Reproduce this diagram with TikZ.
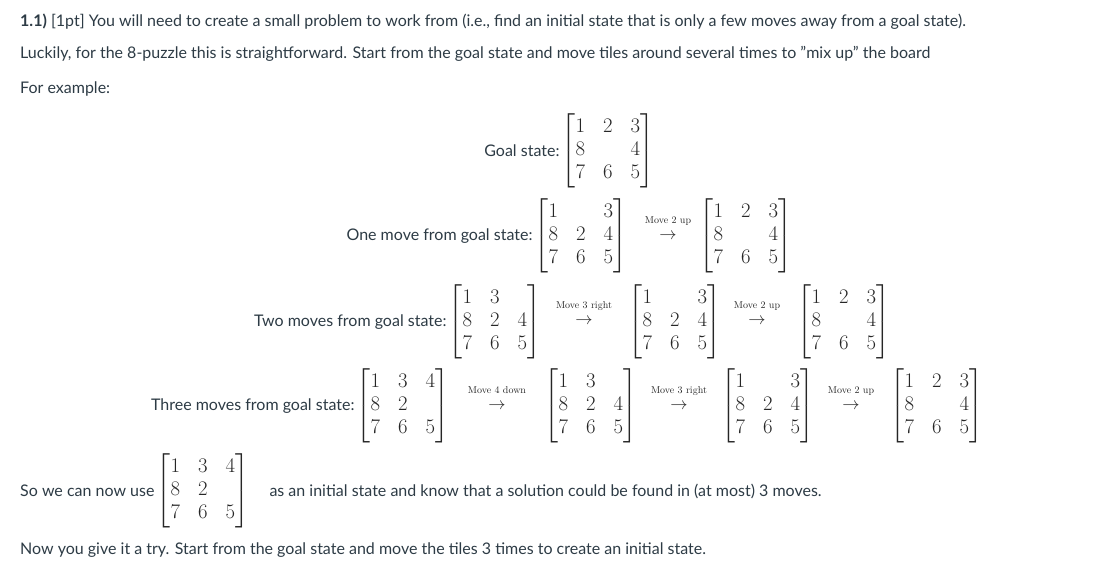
\documentclass[tikz,border=0pt]{standalone}
\usepackage{amsmath}
\usepackage{fontspec}
\setmainfont{Lato}
\newfontfamily\lmfont{Latin Modern Roman}
\definecolor{ink}{HTML}{2D3B45}
\setlength{\arraycolsep}{7.5pt}
\newcommand{\mv}[1]{{\fontsize{10}{11}\selectfont\lmfont #1}\\[-3pt]$\rightarrow$}
\begin{document}
\begin{tikzpicture}[x=1pt,y=-1pt,every node/.style={inner sep=0pt,text=ink,font=\fontsize{16}{19}\selectfont},
 lab/.style={anchor=east},
 mat/.style={scale=1.2,transform shape,text=black!85},
 mvs/.style={align=center,text=black!85},
 txt/.style={anchor=west}]
\useasboundingbox (0,0) rectangle (1095,572);
\node[txt] (t1) at (20,22) {\textbf{1.1)} [1pt] You will need to create a small problem to work from (i.e., find an initial state that is only a few moves away from a goal state).};
\node[txt] (t2) at (20,54) {Luckily, for the 8-puzzle this is straightforward. Start from the goal state and move tiles around several times to "mix up" the board};
\node[txt] (t3) at (20,89) {For example:};
% goal
\node[mat] (g) at (608,151) {$\begin{bmatrix}1&2&3\\8&&4\\7&6&5\end{bmatrix}$};
\node[lab] (gl) at ([xshift=-2pt]g.west) {Goal state:};
% one
\node[mat] (o1) at (581,236) {$\begin{bmatrix}1&&3\\8&2&4\\7&6&5\end{bmatrix}$};
\node[lab] (ol) at ([xshift=-2pt]o1.west) {One move from goal state:};
\node[mvs] (oa) at (668,228) {\mv{Move 2 up}};
\node[mat] (o2) at (746,236) {$\begin{bmatrix}1&2&3\\8&&4\\7&6&5\end{bmatrix}$};
% two
\node[mat] (w1) at (495,322) {$\begin{bmatrix}1&3&\phantom{0}\\8&2&4\\7&6&5\end{bmatrix}$};
\node[lab] (wl) at ([xshift=-2pt]w1.west) {Two moves from goal state:};
\node[mvs] (wa) at (584,313) {\mv{Move 3 right}};
\node[mat] (w2) at (675,322) {$\begin{bmatrix}1&&3\\8&2&4\\7&6&5\end{bmatrix}$};
\node[mvs] (wb) at (757,313) {\mv{Move 2 up}};
\node[mat] (w3) at (844,322) {$\begin{bmatrix}1&2&3\\8&&4\\7&6&5\end{bmatrix}$};
% three
\node[mat] (h1) at (403,406) {$\begin{bmatrix}1&3&4\\8&2&\\7&6&5\end{bmatrix}$};
\node[lab] (hl) at ([xshift=-2pt]h1.west) {Three moves from goal state:};
\node[mvs] (ha) at (497,398) {\mv{Move 4 down}};
\node[mat] (h2) at (591,406) {$\begin{bmatrix}1&3&\phantom{0}\\8&2&4\\7&6&5\end{bmatrix}$};
\node[mvs] (hb) at (679,398) {\mv{Move 3 right}};
\node[mat] (h3) at (768,406) {$\begin{bmatrix}1&&3\\8&2&4\\7&6&5\end{bmatrix}$};
\node[mvs] (hc) at (851,398) {\mv{Move 2 up}};
\node[mat] (h4) at (937,406) {$\begin{bmatrix}1&2&3\\8&&4\\7&6&5\end{bmatrix}$};
% bottom
\node[txt] (bl) at (20,491) {So we can now use};
\node[mat,anchor=west] (b) at ([xshift=2pt]bl.east) {$\begin{bmatrix}1&3&4\\8&2&\\7&6&5\end{bmatrix}$};
\node[txt] (br) at ([xshift=20pt]b.east) {as an initial state and know that a solution could be found in (at most) 3 moves.};
\node[txt] (t4) at (20,550) {Now you give it a try. Start from the goal state and move the tiles 3 times to create an initial state.};
\end{tikzpicture}
\end{document}
